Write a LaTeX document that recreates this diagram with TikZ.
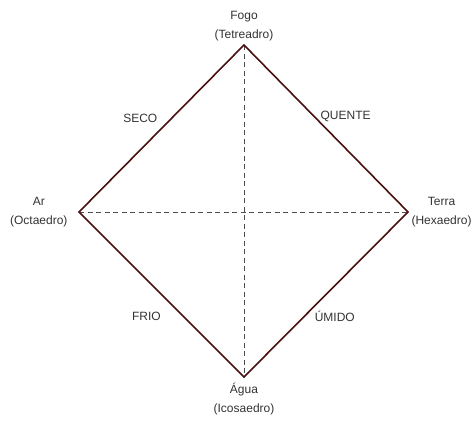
\documentclass[tikz,border=0pt]{standalone}
\usepackage{fontspec}
\setmainfont{Liberation Sans}
\usetikzlibrary{positioning}

\tikzset{
  aresta/.style={draw=marrom, line width=1.6pt, line join=miter},
  eixo/.style={draw=black!70, line width=0.8pt, dash pattern=on 5pt off 3.5pt},
  elem/.style={align=center, text=black!80, font=\fontsize{12}{19}\selectfont},
  qual/.style={text=black!80, font=\fontsize{12}{14}\selectfont}
}
\definecolor{marrom}{RGB}{74,16,16}

\begin{document}
\begin{tikzpicture}[x=1pt,y=-1pt]
  \useasboundingbox (0,0) rectangle (476,421);

  \coordinate (fogo)  at (244,45);
  \coordinate (terra) at (408,212);
  \coordinate (agua)  at (244,377);
  \coordinate (ar)    at (79,212);

  \node[elem, above=0pt of fogo]  (fogoTxt)  {Fogo\\(Tetreadro)};
  \node[elem, right=0pt of terra] (terraTxt) {Terra\\(Hexaedro)};
  \node[elem, below=3pt of agua]  (aguaTxt)  {Água\\(Icosaedro)};
  \node[elem, left=8pt of ar]     (arTxt)    {Ar\\(Octaedro)};

  % eixos
  \draw[eixo] (fogo) -- (agua);
  \draw[eixo] (ar) -- (terra);

  % losango
  \draw[aresta]
  (fogo)
  -- node[qual, pos=0.43, right=2pt] (quente) {QUENTE} (terra)
  -- node[qual, pos=0.63, right=6pt] (umido) {ÚMIDO} (agua)
  -- node[qual, pos=0.37, left=18pt] (frio) {FRIO} (ar)
  -- node[qual, pos=0.56, left=10pt] (seco) {SECO} cycle;
\end{tikzpicture}
\end{document}
